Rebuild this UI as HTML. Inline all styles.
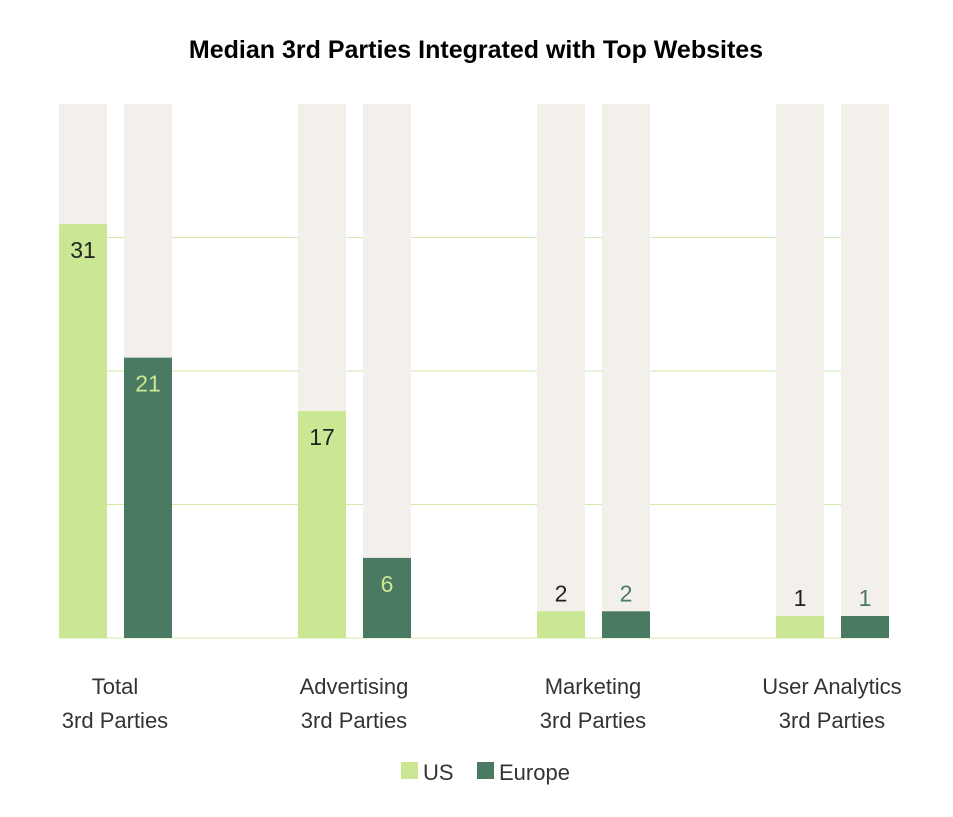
<!DOCTYPE html>
<html><head><meta charset="utf-8"><style>
body{margin:0;background:#fff;width:953px;height:812px;overflow:hidden;font-family:"Liberation Sans",sans-serif}
</style></head><body>
<svg width="953" height="812" xmlns="http://www.w3.org/2000/svg">
<text x="476" y="58" text-anchor="middle" font-size="25" font-weight="bold" fill="#000">Median 3rd Parties Integrated with Top Websites</text>
<g id="grid"></g><g id="bars"></g><g id="labels"></g>
<g>
<rect x="401" y="762" width="17" height="17" fill="#cbe794"/>
<text x="423" y="780" font-size="22" fill="#333">US</text>
<rect x="477" y="762" width="17" height="17" fill="#4a7a62"/>
<text x="499" y="780" font-size="22" fill="#333">Europe</text>
</g>
</svg>
<script>
const categories=[["Total","3rd Parties"],["Advertising","3rd Parties"],["Marketing","3rd Parties"],["User Analytics","3rd Parties"]];
const usValues=[31,17,2,1];
const europeValues=[21,6,2,1];
const gridTicks=[10,20,30];
const ns="http://www.w3.org/2000/svg";
const plotBase=638, plotTop=104, maxV=40;
function yScale(v){return plotBase-(plotBase-plotTop)*v/maxV;}
function gx(i){return 59+i*239;}
function mk(t,a,p){const e=document.createElementNS(ns,t);for(const k in a)e.setAttribute(k,a[k]);document.getElementById(p).appendChild(e);return e;}
gridTicks.forEach(t=>{const l=mk('line',{x1:59,x2:889,y1:yScale(t),y2:yScale(t),stroke:'#d3eaaa','stroke-width':1},'grid');

});
const bl=mk('line',{x1:59,x2:889,y1:plotBase,y2:plotBase,stroke:'#d3eaaa','stroke-width':1},'grid');


categories.forEach((c,i)=>{
 [[usValues[i],0,'#cbe794','us'],[europeValues[i],65,'#4a7a62','europe']].forEach(([v,off,col,s])=>{
  const x=gx(i)+off;
  const bg=mk('rect',{x:x,y:plotTop,width:48,height:plotBase-plotTop,fill:'#f3f0ec'},'bars');
  
  
  let h=Math.max(plotBase-yScale(v),22);
  const b=mk('rect',{x:x,y:plotBase-h,width:48,height:h,fill:col},'bars');
  
  
  const inside=h>60;
  const fill=inside?(s=='us'?'#222':'#cbe794'):(s=='us'?'#222':'#4a7a62');
  const t=mk('text',{x:x+24,y:inside?plotBase-h+34:plotBase-h-10,'text-anchor':'middle','font-size':23,fill:fill},'labels');
  t.textContent=v;
  
  
 });
 c.forEach((ln,j)=>{const t=mk('text',{x:gx(i)+56,y:694+j*34,'text-anchor':'middle','font-size':22,fill:'#333'},'labels');
  t.textContent=ln;
  
  });
});
</script>
</body></html>
